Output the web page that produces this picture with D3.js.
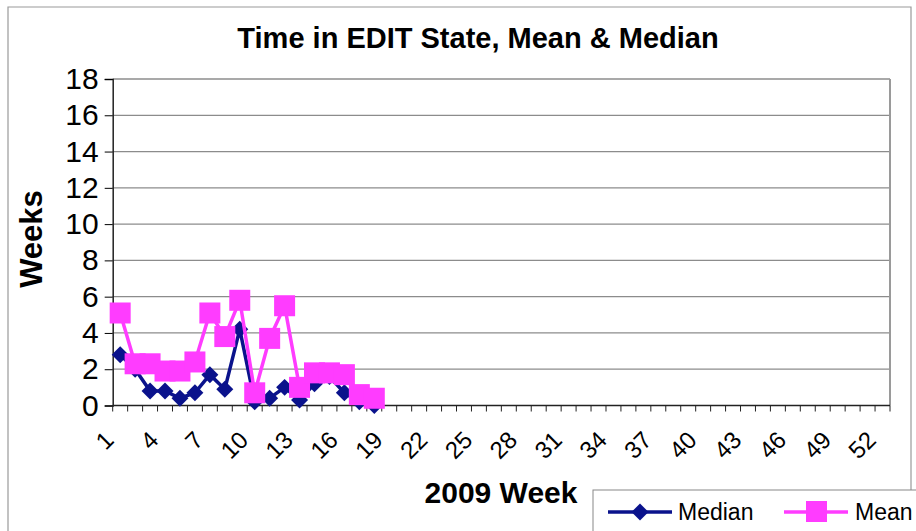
<!DOCTYPE html>
<html>
<head>
<meta charset="utf-8">
<script src="https://cdn.jsdelivr.net/npm/d3@7"></script>
<style>
  body { margin: 0; background: #fff; }
  svg text { font-family: "Liberation Sans", Arial, sans-serif; }
</style>
</head>
<body>
<div id="canvas"></div>
<script>
// Data
const weeks = d3.range(1, 53)
const medianValues = [2.8, 2.0, 0.8, 0.8, 0.4, 0.7, 1.7, 0.9, 4.2, 0.2, 0.4, 1.0, 0.3, 1.2, 1.6, 0.7, 0.2, 0.0]
const meanValues = [5.1, 2.3, 2.3, 1.9, 1.9, 2.4, 5.1, 3.8, 5.8, 0.7, 3.7, 5.5, 1.0, 1.8, 1.8, 1.7, 0.6, 0.4]
const yTicks = [0, 2, 4, 6, 8, 10, 12, 14, 16, 18]
const xLabels = weeks.filter(d => (d - 1) % 3 === 0)

const width = 916
const height = 531
const plotLeft = 112.7
const plotRight = 890
const plotTop = 79
const plotBottom = 405.5

const svg = d3.select('#canvas')
    .append('svg').attr('width', width).attr('height', height)

// outer chart border
svg.append('path')
    .attr('d', `M8,${height + 5} V7 H911 V${height + 5}`)
    .attr('fill', 'none')
    .attr('stroke', '#9a9a9a')
    .attr('stroke-width', 1.2)

// Scales
const x = d3.scaleBand()
    .domain(weeks)
    .range([plotLeft, plotRight])
const y = d3.scaleLinear()
    .domain([0, 18])
    .range([plotBottom, plotTop])
const cx = d => x(d) + x.bandwidth() / 2

// gridlines
svg.append('g')
    .selectAll('line')
    .data(yTicks.filter(d => d > 0))
    .join('line')
    .attr('x1', plotLeft).attr('x2', plotRight)
    .attr('y1', d => y(d)).attr('y2', d => y(d))
    .attr('stroke', '#8c8c8c')
    .attr('stroke-width', 1.3)

// plot border (right side)
svg.append('line')
    .attr('x1', plotRight).attr('x2', plotRight)
    .attr('y1', plotTop).attr('y2', plotBottom)
    .attr('stroke', '#9a9a9a')
    .attr('stroke-width', 2)

// Y axis
const yAxis = d3.axisLeft(y)
    .tickValues(yTicks)
    .tickSize(8)
    .tickPadding(6)
svg.append('g')
    .attr('class', 'y-axis')
    .attr('transform', `translate(${plotLeft},0)`)
    .call(yAxis)
    .call(g => g.selectAll('text').attr('font-size', 30).attr('fill', '#000'))
    .call(g => g.select('.domain').attr('stroke', '#222').attr('stroke-width', 1.5))

// X axis - ticks between categories
svg.append('g')
    .selectAll('line')
    .data(weeks.concat([null]))
    .join('line')
    .attr('x1', d => d === null ? plotRight : x(d))
    .attr('x2', d => d === null ? plotRight : x(d))
    .attr('y1', plotBottom).attr('y2', plotBottom + 6)
    .attr('stroke', '#222')
    .attr('stroke-width', 1)
svg.append('line')
    .attr('x1', plotLeft).attr('x2', plotRight)
    .attr('y1', plotBottom).attr('y2', plotBottom)
    .attr('stroke', '#222')
    .attr('stroke-width', 1.5)

// x labels, rotated
svg.append('g')
    .selectAll('text')
    .data(xLabels)
    .join('text')
    .attr('transform', d => `translate(${cx(d) - 11},${plotBottom + 30}) rotate(-45)`)
    .attr('text-anchor', 'end')
    .attr('dy', '0.35em')
    .attr('font-size', 24)
    .text(d => d)

// Lines
const lineGen = d3.line()
    .x((d, i) => cx(weeks[i]))
    .y(d => y(d))

svg.append('path')
    .datum(medianValues)
    .attr('d', lineGen)
    .attr('fill', 'none')
    .attr('stroke', '#0a128c')
    .attr('stroke-width', 3.5)

svg.append('g')
    .selectAll('rect')
    .data(medianValues)
    .join('rect')
    .attr('x', -6).attr('y', -6)
    .attr('width', 12).attr('height', 12)
    .attr('transform', (d, i) => `translate(${cx(weeks[i])},${y(d)}) rotate(45)`)
    .attr('fill', '#0a128c')

svg.append('path')
    .datum(meanValues)
    .attr('d', lineGen)
    .attr('fill', 'none')
    .attr('stroke', '#ff3cff')
    .attr('stroke-width', 3.5)

svg.append('g')
    .selectAll('rect')
    .data(meanValues)
    .join('rect')
    .attr('x', (d, i) => cx(weeks[i]) - 10.5)
    .attr('y', d => y(d) - 10.5)
    .attr('width', 21).attr('height', 21)
    .attr('fill', '#ff3cff')

// Titles
svg.append('text')
    .attr('x', 478).attr('y', 48)
    .attr('text-anchor', 'middle')
    .attr('font-size', 29)
    .attr('font-weight', 'bold')
    .text('Time in EDIT State, Mean & Median')

svg.append('text')
    .attr('transform', 'translate(42,239) rotate(-90)')
    .attr('text-anchor', 'middle')
    .attr('font-size', 31)
    .attr('font-weight', 'bold')
    .text('Weeks')

svg.append('text')
    .attr('x', 501).attr('y', 503)
    .attr('text-anchor', 'middle')
    .attr('font-size', 30)
    .attr('font-weight', 'bold')
    .text('2009 Week')

// Legend
const legend = svg.append('g')
legend.append('rect')
    .attr('x', 593).attr('y', 490)
    .attr('width', 340).attr('height', 60)
    .attr('fill', '#fff')
    .attr('stroke', '#888')
    .attr('stroke-width', 1)
legend.append('line')
    .attr('x1', 608).attr('x2', 672).attr('y1', 512).attr('y2', 512)
    .attr('stroke', '#0a128c').attr('stroke-width', 3.5)
legend.append('rect')
    .attr('x', -6).attr('y', -6).attr('width', 12).attr('height', 12)
    .attr('transform', 'translate(640,512) rotate(45)')
    .attr('fill', '#0a128c')
legend.append('text')
    .attr('x', 678).attr('y', 520)
    .attr('font-size', 23)
    .text('Median')
legend.append('line')
    .attr('x1', 784).attr('x2', 848).attr('y1', 512).attr('y2', 512)
    .attr('stroke', '#ff3cff').attr('stroke-width', 3.5)
legend.append('rect')
    .attr('x', 806).attr('y', 501).attr('width', 21).attr('height', 21)
    .attr('fill', '#ff3cff')
legend.append('text')
    .attr('x', 855).attr('y', 520)
    .attr('font-size', 23)
    .text('Mean')
</script>
</body>
</html>
